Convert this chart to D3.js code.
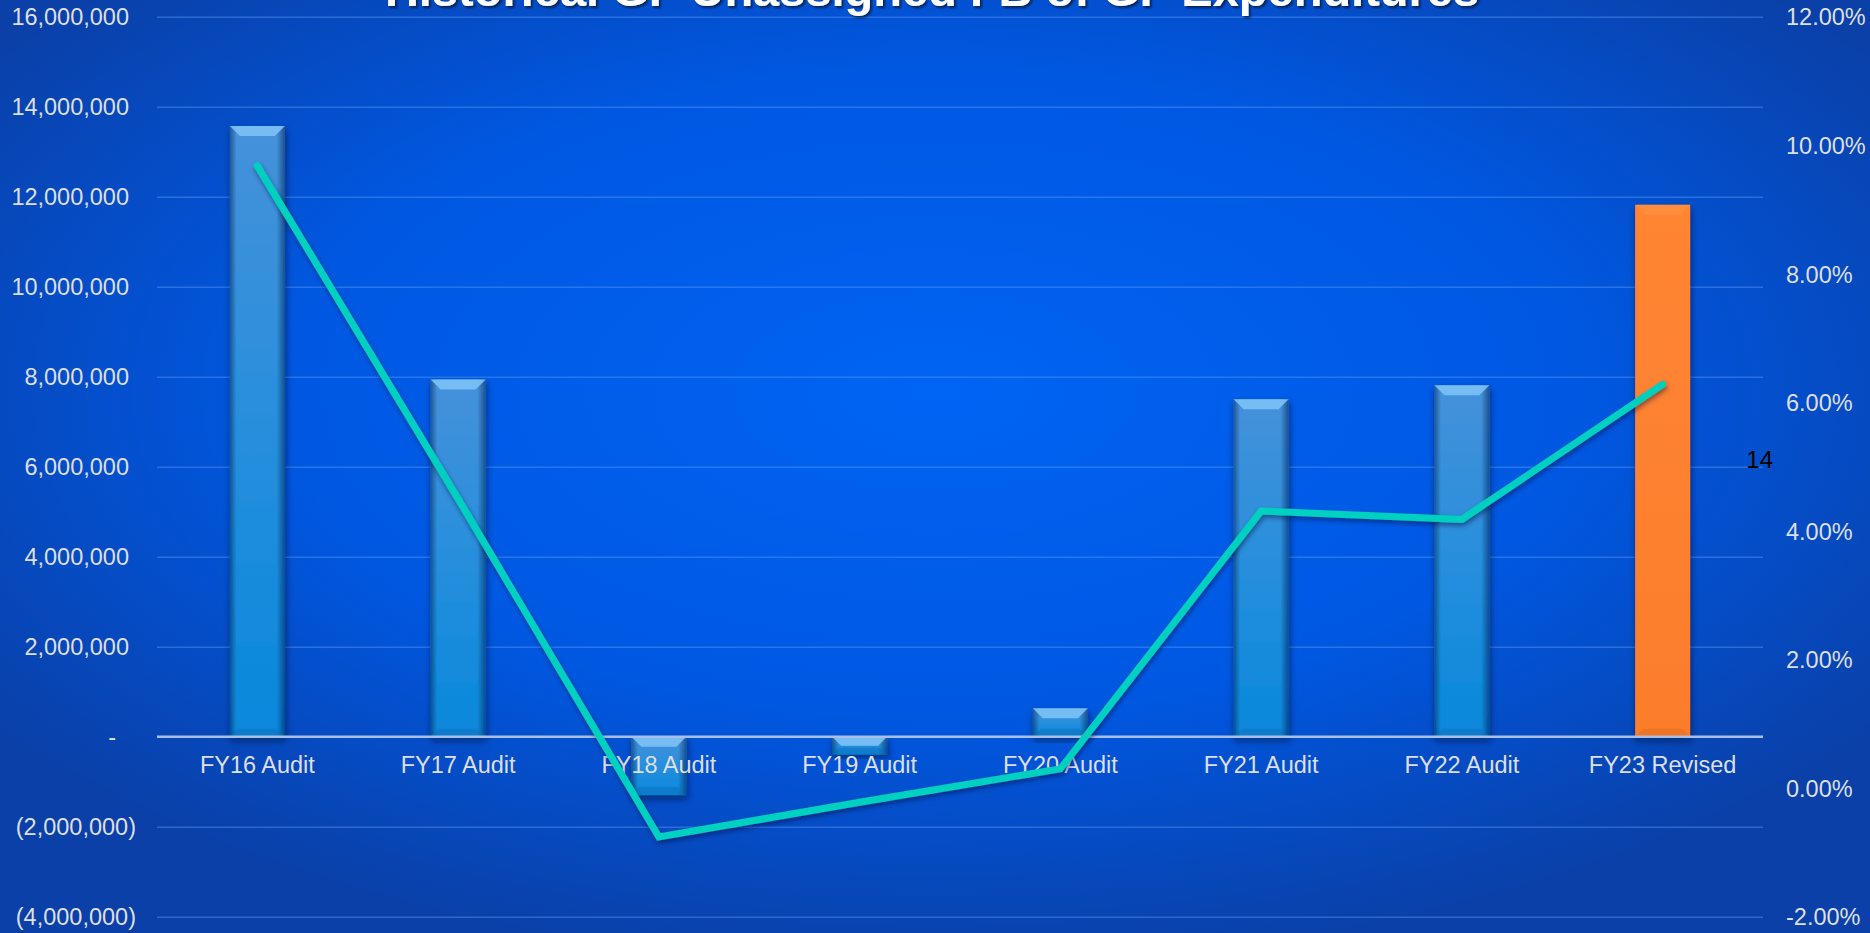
<!DOCTYPE html>
<html>
<head>
<meta charset="utf-8">
<script src="https://cdn.jsdelivr.net/npm/d3@7"></script>
<style>
  html, body { margin: 0; padding: 0; overflow: hidden; background: #0a44b0; }
  text { font-family: 'Liberation Sans', Arial, sans-serif; }
</style>
</head>
<body>
<svg id="chart" width="1870" height="933"></svg>
<script>
const categories = ['FY16 Audit', 'FY17 Audit', 'FY18 Audit', 'FY19 Audit', 'FY20 Audit', 'FY21 Audit', 'FY22 Audit', 'FY23 Revised'];
const fundBalance = [13570000, 7940000, -1300000, -400000, 630000, 7500000, 7810000, 11820000];
const pctOfExpenditures = [0.0968, 0.0450, -0.0076, -0.0022, 0.0030, 0.0431, 0.0418, 0.0628];
const leftTicks = [-4000000, -2000000, 0, 2000000, 4000000, 6000000, 8000000, 10000000, 12000000, 14000000, 16000000];
const rightTicks = [-0.02, 0, 0.02, 0.04, 0.06, 0.08, 0.10, 0.12];
const highlight = 'FY23 Revised';
const title = 'Historical GF Unassigned FB of GF Expenditures';
const pageNumber = '14';

const width = 1870;
const height = 933;
const margin = { top: 16.7, right: 107, bottom: 16.3, left: 157 };
const innerWidth = width - margin.left - margin.right;
const innerHeight = height - margin.top - margin.bottom;

const svg = d3.select('#chart');
const defs = svg.append('defs');

const bg = defs.append('radialGradient')
  .attr('id', 'bg')
  .attr('cx', '50%').attr('cy', '42%').attr('r', '62%');
bg.append('stop').attr('offset', '0%').attr('stop-color', '#0064f4');
bg.append('stop').attr('offset', '55%').attr('stop-color', '#0058e2');
bg.append('stop').attr('offset', '100%').attr('stop-color', '#0a40a8');

const blueFill = defs.append('linearGradient')
  .attr('id', 'blueFill').attr('x1', 0).attr('y1', 0).attr('x2', 0).attr('y2', 1);
blueFill.append('stop').attr('offset', '0%').attr('stop-color', '#4591da');
blueFill.append('stop').attr('offset', '45%').attr('stop-color', '#2a8fdc');
blueFill.append('stop').attr('offset', '100%').attr('stop-color', '#0888dc');

const orangeFill = defs.append('linearGradient')
  .attr('id', 'orangeFill').attr('x1', 0).attr('y1', 0).attr('x2', 0).attr('y2', 1);
orangeFill.append('stop').attr('offset', '0%').attr('stop-color', '#ff8533');
orangeFill.append('stop').attr('offset', '100%').attr('stop-color', '#fb7d2c');

const sideShade = defs.append('linearGradient')
  .attr('id', 'sideShade').attr('x1', 0).attr('y1', 0).attr('x2', 1).attr('y2', 0);
sideShade.append('stop').attr('offset', '0%').attr('stop-color', '#001a50').attr('stop-opacity', 0.5);
sideShade.append('stop').attr('offset', '12%').attr('stop-color', '#001a50').attr('stop-opacity', 0);
sideShade.append('stop').attr('offset', '85%').attr('stop-color', '#001a50').attr('stop-opacity', 0);
sideShade.append('stop').attr('offset', '100%').attr('stop-color', '#001a50').attr('stop-opacity', 0.55);

const barShadow = defs.append('filter').attr('id', 'barShadow')
  .attr('x', '-30%').attr('y', '-10%').attr('width', '160%').attr('height', '130%');
barShadow.append('feDropShadow')
  .attr('dx', 1).attr('dy', 4).attr('stdDeviation', 3.5)
  .attr('flood-color', '#001030').attr('flood-opacity', 0.55);

const titleShadow = defs.append('filter').attr('id', 'titleShadow');
titleShadow.append('feDropShadow')
  .attr('dx', 2).attr('dy', 2).attr('stdDeviation', 1.2)
  .attr('flood-color', '#000820').attr('flood-opacity', 0.7);

const lineShadow = defs.append('filter').attr('id', 'lineShadow')
  .attr('x', '-5%').attr('y', '-5%').attr('width', '110%').attr('height', '110%');
lineShadow.append('feDropShadow')
  .attr('dx', 1).attr('dy', 3).attr('stdDeviation', 2.5)
  .attr('flood-color', '#001030').attr('flood-opacity', 0.45);

svg.append('rect')
  .attr('width', width).attr('height', height)
  .attr('fill', 'url(#bg)');

const g = svg.append('g')
  .attr('transform', `translate(${margin.left},${margin.top})`);

const xScale = d3.scaleBand()
  .domain(categories)
  .range([0, innerWidth])
  .paddingInner(0.726)
  .paddingOuter(0.363);

const yScale = d3.scaleLinear()
  .domain([-4000000, 16000000])
  .range([innerHeight, 0]);

const y2Scale = d3.scaleLinear()
  .domain([-0.02, 0.12])
  .range([innerHeight, 0]);

const moneyFormat = d3.format(',');
const leftFormat = d => d === 0 ? '-' : d < 0 ? '(' + moneyFormat(-d) + ')' : moneyFormat(d);
const pctFormat = d => d3.format('.2%')(d).replace('\u2212', '-');

const yAxis = d3.axisLeft(yScale)
  .tickValues(leftTicks)
  .tickFormat(leftFormat)
  .tickSize(-innerWidth)
  .tickPadding(28);

const yAxisG = g.append('g').attr('class', 'yAxis').call(yAxis);
yAxisG.select('.domain').remove();
yAxisG.selectAll('.tick line')
  .attr('stroke', '#5a9af5')
  .attr('stroke-opacity', 0.45)
  .attr('stroke-width', 1.6);
yAxisG.selectAll('.tick text')
  .attr('fill', '#dcdfe6')
  .attr('font-size', '23.5px')
  .attr('dy', '0.35em')
  .attr('x', d => d === 0 ? -41 : d < 0 ? -21 : -28);

const y2Axis = d3.axisRight(y2Scale)
  .tickValues(rightTicks)
  .tickFormat(pctFormat)
  .tickSize(0)
  .tickPadding(23);

const y2AxisG = g.append('g').attr('class', 'y2Axis')
  .attr('transform', `translate(${innerWidth},0)`)
  .call(y2Axis);
y2AxisG.select('.domain').remove();
y2AxisG.selectAll('.tick text')
  .attr('fill', '#dcdfe6')
  .attr('font-size', '23.5px')
  .attr('dy', '0.35em');

const bars = g.append('g').attr('class', 'bars')
  .selectAll('g')
  .data(categories.map((c, i) => ({ category: c, value: fundBalance[i] })))
  .enter().append('g')
  .attr('filter', 'url(#barShadow)');

const barX = d => xScale(d.category);
const barTop = d => Math.min(yScale(d.value), yScale(0));
const barH = d => Math.abs(yScale(d.value) - yScale(0));
const bw = xScale.bandwidth();

bars.append('rect')
  .attr('x', barX)
  .attr('y', barTop)
  .attr('width', bw)
  .attr('height', barH)
  .attr('fill', d => d.category === highlight ? 'url(#orangeFill)' : 'url(#blueFill)');

bars.filter(d => d.category !== highlight).append('rect')
  .attr('x', barX)
  .attr('y', barTop)
  .attr('width', bw)
  .attr('height', barH)
  .attr('fill', 'url(#sideShade)');

const bevel = d => Math.min(10, barH(d) / 2);

bars.append('polygon')
  .attr('points', d => {
    const x0 = barX(d), x1 = x0 + bw, y0 = barTop(d), b = bevel(d);
    return [[x0, y0], [x1, y0], [x1 - b, y0 + b], [x0 + b, y0 + b]].join(' ');
  })
  .attr('fill', d => d.category === highlight ? '#ff9548' : '#7cc2f6')
  .attr('fill-opacity', d => d.category === highlight ? 0.5 : 0.9);

bars.append('polygon')
  .attr('points', d => {
    const x0 = barX(d), x1 = x0 + bw, y1 = barTop(d) + barH(d), b = bevel(d) * 0.8;
    return [[x0, y1], [x1, y1], [x1 - b, y1 - b], [x0 + b, y1 - b]].join(' ');
  })
  .attr('fill', d => d.category === highlight ? '#e06a1c' : '#0a6cb8')
  .attr('fill-opacity', 0.45);

g.append('line')
  .attr('class', 'zero')
  .attr('x1', 0).attr('x2', innerWidth)
  .attr('y1', yScale(0)).attr('y2', yScale(0))
  .attr('stroke', '#a9bfe8')
  .attr('stroke-width', 2.6);

const xAxis = d3.axisBottom(xScale).tickSize(0).tickPadding(20);
const xAxisG = g.append('g').attr('class', 'xAxis')
  .attr('transform', `translate(0,${yScale(0)})`)
  .call(xAxis);
xAxisG.select('.domain').remove();
xAxisG.selectAll('.tick text')
  .attr('fill', '#dcdfe6')
  .attr('font-size', '23.5px');

const line = d3.line()
  .x((d, i) => xScale(categories[i]) + bw / 2)
  .y(d => y2Scale(d));

g.append('path')
  .datum(pctOfExpenditures)
  .attr('d', line)
  .attr('fill', 'none')
  .attr('stroke', '#00d0c0')
  .attr('stroke-width', 7)
  .attr('stroke-linecap', 'round')
  .attr('stroke-linejoin', 'miter')
  .attr('filter', 'url(#lineShadow)');

svg.append('text')
  .attr('x', 932)
  .attr('y', 6)
  .attr('text-anchor', 'middle')
  .attr('font-size', '47px')
  .attr('font-weight', 'bold')
  .attr('fill', '#ffffff')
  .attr('filter', 'url(#titleShadow)')
  .text(title);

svg.append('text')
  .attr('x', 1773)
  .attr('y', 468)
  .attr('text-anchor', 'end')
  .attr('font-size', '24px')
  .attr('fill', '#000000')
  .text(pageNumber);
</script>
</body>
</html>
